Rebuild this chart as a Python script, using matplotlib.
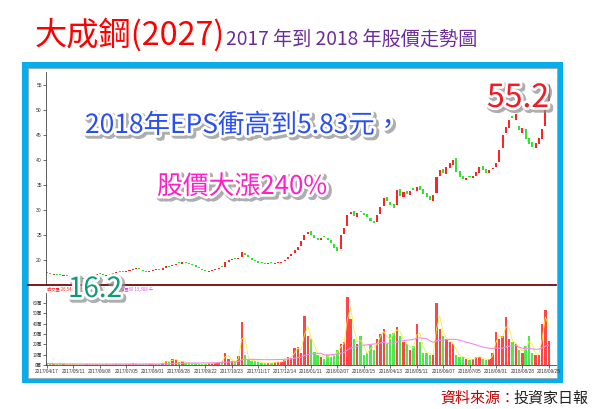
import matplotlib
matplotlib.use("Agg")
import matplotlib.pyplot as plt
import matplotlib.patheffects as pe
from matplotlib.patches import Rectangle
from matplotlib.lines import Line2D
import numpy as np
import pandas as pd

plt.rcParams['font.family'] = ['Noto Sans CJK TC', 'DejaVu Sans']

# ---------------- data (one candle ~ 2.4 trading days) ----------------
closes = [17.4, 17.3, 17.2, 17.1, 17.0, 17.0, 16.9, 16.8, 16.6, 16.4,
          16.3, 16.2, 16.5, 16.8, 17.0, 17.2, 17.2, 17.0, 17.1, 17.3,
          17.4, 17.6, 17.7, 17.6, 17.8, 18.0, 18.3, 18.4, 18.2, 17.8,
          17.6, 17.9, 18.1, 18.2, 18.0, 18.4, 18.8, 18.7, 19.0, 19.2,
          19.4, 19.6, 19.4, 19.2, 19.0, 18.7, 18.4, 18.0, 17.8, 17.9,
          18.1, 18.3, 18.5, 18.6, 19.6, 20.0, 20.2, 20.3, 20.4, 21.6,
          21.0, 20.6, 20.0, 19.8, 19.5, 19.4, 19.3, 19.4, 19.4, 19.5,
          19.6, 19.7, 20.0, 20.6, 21.2, 22.0, 22.6, 23.8, 25.0, 25.6,
          25.0, 24.4, 24.0, 24.4, 24.6, 24.0, 23.4, 22.4, 21.8, 25.0,
          26.5, 29.0, 29.6, 28.8, 29.4, 29.6, 29.0, 28.6, 27.8, 27.4,
          29.0, 30.6, 32.4, 31.8, 31.0, 30.4, 34.0, 32.8, 33.6, 33.2,
          33.8, 34.0, 34.6, 34.0, 33.2, 32.6, 32.0, 33.0, 36.6, 38.0,
          37.4, 38.6, 39.4, 40.0, 37.6, 36.6, 36.2, 36.4, 36.6, 36.8,
          37.6, 38.6, 38.0, 37.4, 38.0, 38.4, 39.4, 42.0, 45.0, 46.6,
          48.0, 48.4, 49.2, 46.0, 46.4, 44.2, 43.2, 42.6, 43.4, 44.4,
          46.2, 51.5, 54.0]
opens = [17.6, 17.5, 17.1, 17.3, 17.2, 16.8, 17.1, 16.7, 16.8, 16.6,
         16.5, 16.4, 16.3, 16.6, 16.8, 17.0, 17.4, 17.2, 16.9, 17.1,
         17.2, 17.4, 17.8, 17.8, 17.6, 17.8, 18.0, 18.2, 18.4, 18.1,
         17.8, 17.6, 17.9, 18.0, 18.3, 18.1, 18.5, 18.9, 18.8, 19.0,
         19.6, 19.3, 19.7, 19.5, 19.2, 19.0, 18.6, 18.3, 18.1, 17.7,
         17.9, 18.1, 18.3, 18.8, 18.7, 19.7, 20.0, 20.5, 20.2, 20.6,
         21.4, 21.0, 20.5, 20.1, 19.8, 19.6, 19.5, 19.2, 19.6, 19.3,
         19.4, 19.5, 19.8, 20.2, 20.8, 21.4, 22.0, 22.8, 24.0, 25.2,
         25.8, 25.0, 24.5, 24.0, 24.8, 24.5, 24.0, 23.2, 22.6, 22.2,
         25.2, 26.8, 29.2, 29.8, 28.6, 29.8, 29.4, 29.2, 28.4, 27.8,
         27.6, 29.2, 30.8, 32.6, 31.6, 31.2, 31.0, 34.2, 32.6, 33.8,
         33.0, 34.4, 33.8, 34.8, 34.2, 33.4, 32.8, 31.8, 33.4, 36.8,
         38.2, 37.2, 38.4, 39.0, 40.4, 37.8, 36.8, 36.0, 36.8, 36.4,
         36.8, 37.4, 38.8, 38.2, 37.4, 38.2, 38.6, 39.6, 42.4, 45.4,
         46.4, 48.8, 48.0, 46.8, 45.4, 46.2, 44.4, 43.6, 42.4, 43.2,
         44.2, 46.8, 51.8]
peak_high = 55.2
volumes = [1.5, 1.2, 0.8, 1.0, 1.4, 0.8, 0.6, 1.0, 0.7, 0.6,
           0.8, 1.2, 0.9, 0.8, 0.6, 0.8, 0.7, 1.0, 0.8, 0.6,
           1.0, 1.4, 0.8, 1.0, 1.2, 0.8, 1.6, 1.0, 0.8, 1.4,
           1.0, 1.2, 0.8, 1.0, 1.4, 2.0, 4.0, 3.0, 6.0, 5.0,
           3.0, 4.0, 2.0, 2.0, 1.5, 1.5, 1.0, 1.0, 1.0, 1.5,
           2.0, 2.0, 3.0, 4.0, 12.0, 6.0, 4.0, 3.0, 9.0, 42.0,
           10.0, 5.0, 4.0, 4.0, 3.0, 2.0, 2.0, 2.0, 2.0, 3.0,
           3.0, 3.0, 5.0, 8.0, 7.0, 16.0, 17.0, 12.0, 47.0, 28.0,
           25.0, 13.0, 10.0, 8.0, 6.0, 10.0, 8.0, 10.0, 15.0, 20.0,
           22.0, 66.0, 45.0, 25.0, 20.0, 28.0, 10.0, 12.0, 20.0, 15.0,
           25.0, 30.0, 35.0, 20.0, 30.0, 31.0, 37.0, 28.0, 22.0, 20.0,
           15.0, 18.0, 40.0, 22.0, 12.0, 12.0, 10.0, 10.0, 60.0, 35.0,
           28.0, 25.0, 22.0, 20.0, 10.0, 8.0, 8.0, 6.0, 5.0, 6.0,
           8.0, 8.0, 6.0, 5.0, 6.0, 12.0, 32.0, 25.0, 28.0, 46.0,
           25.0, 22.0, 20.0, 15.0, 12.0, 18.0, 28.0, 12.0, 10.0, 10.0,
           40.0, 53.0, 23.0]
date_labels = ["2017/04/17", "2017/05/11", "2017/06/08", "2017/07/05", "2017/08/01",
               "2017/08/28", "2017/09/22", "2017/10/23", "2017/11/17", "2017/12/14",
               "2018/01/11", "2018/02/07", "2018/03/15", "2018/04/13", "2018/05/11",
               "2018/06/07", "2018/07/05", "2018/08/01", "2018/08/28", "2018/09/25"]
price_ticks = [20, 25, 30, 35, 40, 45, 50, 55]
vol_ticks = [0, 10, 20, 30, 40, 50, 60]
low_label = "16.2"
high_label = "55.2"

# ---------------- figure ----------------
W, H = 600, 409
fig = plt.figure(figsize=(W / 100, H / 100), dpi=100)
fig.patch.set_facecolor('white')
fx = lambda x: x / W
fy = lambda y: 1 - y / H

# blue frame
fig.patches.append(Rectangle((fx(22), fy(383)), (563 - 22) / W, (383 - 62) / H,
                             transform=fig.transFigure, facecolor='#08aeea',
                             edgecolor='none', zorder=-3))
fig.patches.append(Rectangle((fx(28), fy(378)), (557 - 28) / W, (378 - 68) / H,
                             transform=fig.transFigure, facecolor='white',
                             edgecolor='#9aa7b0', lw=0.6, zorder=-2))

n = len(closes)
idx = np.arange(n)
o = np.array(opens)
c = np.array(closes)
up = c >= o
RED, GREEN = '#ff2424', '#2fe62f'
cols = [RED if u else GREEN for u in up]

# price panel
axp = fig.add_axes([fx(46), fy(285), (556 - 46) / W, (285 - 72) / H])
axp.set_facecolor('none')
axp.bar(idx, np.maximum(np.abs(c - o), 0.15), bottom=np.minimum(c, o), width=0.62,
        color=cols, edgecolor='none')
axp.vlines(idx[-1], c[-1], peak_high, color=RED, lw=0.6)
axp.set_xlim(-0.3, 154.2)
axp.set_ylim(15.0, 57.6)
axp.set_yticks(price_ticks)
axp.set_yticklabels([str(t) for t in price_ticks], fontsize=3.6, color='#333333',
                    family=['Liberation Sans'])
axp.tick_params(axis='y', length=2, width=0.5, pad=1, colors='#333333')
axp.set_xticks([])
for s in ['top', 'right', 'bottom']:
    axp.spines[s].set_visible(False)
axp.spines['left'].set_linewidth(0.6)
axp.spines['left'].set_color('#444444')

# dark red separator
fig.add_artist(Line2D([fx(28), fx(556)], [fy(285), fy(285)], transform=fig.transFigure,
                      color='#6e0a0a', lw=1.3))

# volume panel
axv = fig.add_axes([fx(46), fy(365), (556 - 46) / W, (365 - 293) / H])
axv.set_facecolor('none')
v = np.array(volumes)
axv.bar(idx, v, width=0.72, color=cols, edgecolor='none', alpha=0.85)
vs = pd.Series(v)
axv.plot(idx, vs.rolling(2, min_periods=1).mean(), color='#f4f03a', lw=0.6)
axv.plot(idx, vs.rolling(25, min_periods=1).mean(), color='#f08cf0', lw=0.8)
axv.set_xlim(-0.3, 154.2)
axv.set_ylim(0, 69.7)
axv.set_yticks(vol_ticks)
axv.set_yticklabels([f"{t}萬" for t in vol_ticks], fontsize=3.2, color='#333333')
axv.set_xticks(np.arange(len(date_labels)) * 8)
axv.set_xticklabels(date_labels, fontsize=3.4, color='#333333', family=['Liberation Sans'])
axv.tick_params(axis='both', length=2, width=0.5, pad=1, colors='#333333')
for s in ['top', 'right']:
    axv.spines[s].set_visible(False)
for s in ['left', 'bottom']:
    axv.spines[s].set_linewidth(0.6)
    axv.spines[s].set_color('#444444')

# volume header
fig.text(fx(47), fy(291), "成交量 26,548", fontsize=3.1, color='#ff2020')
fig.text(fx(80), fy(291), "均量5 23,167", fontsize=3.1, color='#d8d020')
fig.text(fx(120), fy(291), "均量60 13,388 千", fontsize=3.1, color='#ee44ee')

# titles
fig.text(fx(35), fy(45), "大成鋼(2027)", fontsize=23.2, color='#ff0000', va='baseline')
fig.text(fx(226), fy(45), "2017 年到 2018 年股價走勢圖", fontsize=13.8, color='#6a2c9a',
         va='baseline')

# annotations
fx_eff = [pe.Stroke(linewidth=5, foreground='#8c8c8c', offset=(1.6, -1.6), alpha=0.7),
          pe.Stroke(linewidth=4, foreground='white'),
          pe.Normal()]
fig.text(fx(85), fy(133), "2018年EPS衝高到5.83元，", fontsize=19, color='#2a4ff0',
         va='baseline', path_effects=fx_eff)
fig.text(fx(157), fy(194), "股價大漲240%", fontsize=18.6, color='#ff1fc8',
         va='baseline', path_effects=fx_eff)
fig.text(fx(68), fy(297), low_label, fontsize=20, color='#0f9a7a',
         va='baseline', path_effects=fx_eff)
fig.text(fx(487), fy(107), high_label, fontsize=23, color='#ee1c25',
         va='baseline', path_effects=fx_eff)

# source
fig.text(fx(588), fy(403), "投資家日報", fontsize=10.8, color='#222222', ha='right',
         va='baseline')
fig.text(fx(515), fy(403), "資料來源：", fontsize=10.8, color='#c00000', ha='right',
         va='baseline')

fig.savefig("out.png", dpi=100)
